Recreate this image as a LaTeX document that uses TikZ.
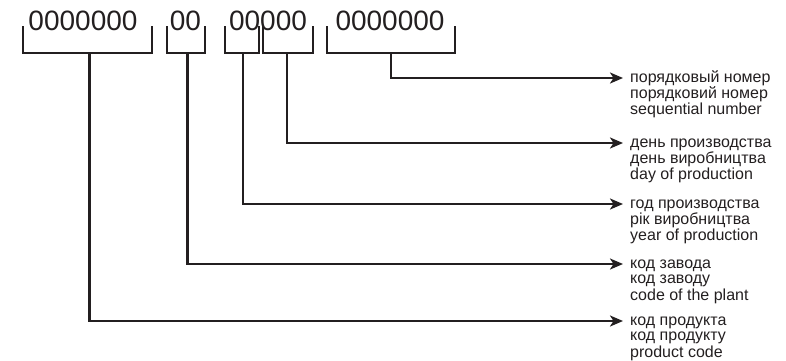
\documentclass[tikz,border=0pt]{standalone}
\usepackage{fontspec}
\setmainfont{Liberation Sans}
\usetikzlibrary{arrows.meta}
\definecolor{ink}{RGB}{35,31,32}
\begin{document}
\begin{tikzpicture}[x=1pt,y=-1pt,
  digits/.style={font=\fontsize{28}{30}\selectfont, inner sep=0pt, anchor=base, text=ink},
  brk/.style={draw=ink, line width=2.3pt, line join=miter, line cap=rect},
  conn/.style={draw=ink, line width=2.3pt, line join=miter, -{Stealth[length=13pt,width=11pt,inset=3.5pt]}},
  lab/.style={font=\fontsize{16}{15.8}\selectfont, inner sep=0pt, anchor=base west, text=ink}]
\useasboundingbox (0,0) rectangle (786,360);
% digit groups
\node[digits] (g1) at (83,30) {0000000};
\node[digits] (g2) at (185.5,30) {00};
\node[digits] (g3) at (268,30) {00000};
\node[digits] (g4) at (390,30) {0000000};
% brackets
\draw[brk] (23,27) -- (23,53) -- (152,53) -- (152,27);
\draw[brk] (167,27) -- (167,53) -- (205,53) -- (205,27);
\draw[brk] (225,27) -- (225,53) -- (259,53) -- (259,27);
\draw[brk] (263,27) -- (263,53) -- (313,53) -- (313,27);
\draw[brk] (327,27) -- (327,53) -- (455,53) -- (455,27);
% stem starts
\coordinate (s1) at (89.5,53);
\coordinate (s2) at (187.5,53);
\coordinate (s3) at (243,53);
\coordinate (s4) at (287,53);
\coordinate (s5) at (391,53);
% arrow ends
\coordinate (e5) at (623,78);
\coordinate (e4) at (623,143);
\coordinate (e3) at (623,204);
\coordinate (e2) at (623,264);
\coordinate (e1) at (623,321);
% labels
\node[lab] (l5) at (630,82) {\begin{tabular}[t]{@{}l@{}}порядковый номер\\порядковий номер\\sequential number\end{tabular}};
\node[lab] (l4) at (630,147) {\begin{tabular}[t]{@{}l@{}}день производства\\день виробництва\\day of production\end{tabular}};
\node[lab] (l3) at (630,208) {\begin{tabular}[t]{@{}l@{}}год производства\\рік виробництва\\year of production\end{tabular}};
\node[lab] (l2) at (630,268) {\begin{tabular}[t]{@{}l@{}}код завода\\код заводу\\code of the plant\end{tabular}};
\node[lab] (l1) at (630,325) {\begin{tabular}[t]{@{}l@{}}код продукта\\код продукту\\product code\end{tabular}};
% connectors
\draw[conn] (s5) |- (e5);
\draw[conn] (s4) |- (e4);
\draw[conn] (s3) |- (e3);
\draw[conn] (s2) |- (e2);
\draw[conn] (s1) |- (e1);
\end{tikzpicture}
\end{document}
